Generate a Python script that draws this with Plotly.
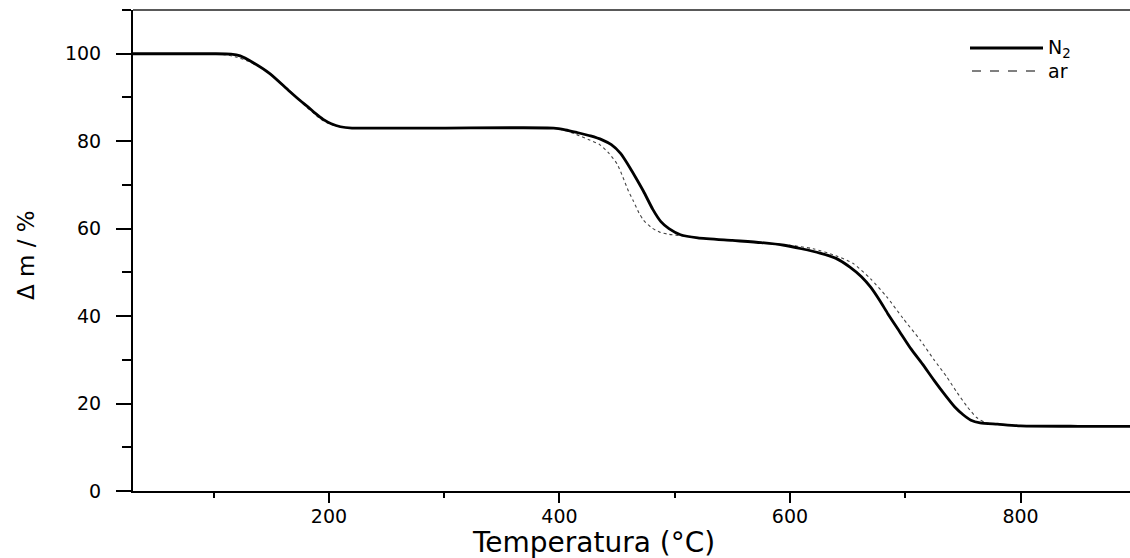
import plotly.graph_objects as go

# ---- data ----
temp_n2 = [30, 100, 115, 123, 134, 149, 165, 175, 182, 188, 195, 202, 210, 220, 240, 300,
           395, 405, 415, 427, 437, 445, 453, 461, 467, 473, 481, 488, 495, 505, 520,
           550, 575, 595, 610, 626, 640, 652, 662, 670, 678, 685, 695, 705, 715, 725,
           735, 743, 750, 757, 765, 780, 800, 850, 900]
mass_n2 = [100, 100, 99.9, 99.5, 98.0, 95.4, 91.6, 89.3, 87.8, 86.4, 85.0, 84.0, 83.3, 83.0, 83.0, 83.0,
           83.0, 82.6, 82.0, 81.2, 80.3, 79.2, 77.2, 74.0, 71.3, 68.5, 64.4, 61.6, 60.0, 58.6, 57.9,
           57.3, 56.8, 56.2, 55.4, 54.4, 53.2, 51.2, 49.0, 46.6, 43.5, 40.5, 36.5, 32.5, 29.0, 25.3,
           21.8, 19.2, 17.5, 16.2, 15.6, 15.3, 14.9, 14.8, 14.8]

temp_ar = [30, 100, 110, 120, 130, 140, 150, 165, 178, 186, 193, 200, 210, 220, 300,
           395, 405, 415, 425, 435, 443, 450, 455, 460, 464, 469, 473, 480, 487, 495,
           505, 520, 550, 575, 600, 620, 640, 655, 670, 684, 698, 713, 725, 736, 745,
           754, 762, 770, 785, 800, 850, 900]
mass_ar = [100, 100, 99.8, 99.2, 98.3, 97.0, 95.2, 91.8, 88.4, 86.6, 85.0, 84.0, 83.3, 83.0, 83.0,
           83.0, 82.4, 81.5, 80.4, 79.2, 77.2, 74.8, 71.8, 68.5, 66.4, 63.6, 61.9, 60.2, 59.2, 58.7,
           58.4, 57.9, 57.3, 56.8, 56.2, 55.4, 53.8, 52.0, 48.5, 44.4, 39.5, 34.5, 30.0, 26.1, 22.5,
           19.2, 16.8, 15.6, 15.2, 14.9, 14.8, 14.8]

series_names = ["N<sub>2</sub>", "ar"]
x_title = "Temperatura (°C)"
y_title = "Δ m / %"

FONT = "DejaVu Sans"
W, H = 1130, 558
ML, MR, MT, MB = 133, 0, 10, 67
PW, PH = W - ML - MR, H - MT - MB


def px_x(px):
    return (px - ML) / PW


def px_y(py):
    return (H - MB - py) / PH


fig = go.Figure()
fig.add_trace(go.Scatter(x=temp_ar, y=mass_ar, mode="lines", name="ar",
                         line=dict(color="#444444", width=1.1, dash="dot", shape="spline", smoothing=0.6),
                         showlegend=False))
fig.add_trace(go.Scatter(x=temp_n2, y=mass_n2, mode="lines", name="N2",
                         line=dict(color="black", width=2.8, shape="spline", smoothing=0.6),
                         showlegend=False))

axis_common = dict(showgrid=False, zeroline=False, showline=True, linecolor="black", linewidth=2,
                   ticks="outside", tickcolor="black", tickwidth=2,
                   tickfont=dict(family=FONT, size=19, color="black"))

fig.update_xaxes(range=[30, 895], tick0=0, dtick=200, ticklen=10, ticklabelstandoff=-3,
                 minor=dict(dtick=100, tick0=0, ticks="outside", ticklen=5, tickwidth=2, tickcolor="black"),
                 **axis_common)
fig.update_yaxes(range=[0, 110], tick0=0, dtick=20, ticklen=15, ticklabelstandoff=11,
                 minor=dict(dtick=10, tick0=0, ticks="outside", ticklen=9, tickwidth=2, tickcolor="black"),
                 **axis_common)

shapes = [
    # top frame line
    dict(type="line", xref="paper", yref="paper", x0=0, x1=1, y0=1, y1=1,
         line=dict(color="#222222", width=1.3)),
    # legend samples
    dict(type="line", xref="paper", yref="paper", x0=px_x(970), x1=px_x(1043),
         y0=px_y(48), y1=px_y(48), line=dict(color="black", width=3)),
    dict(type="line", xref="paper", yref="paper", x0=px_x(972), x1=px_x(1038),
         y0=px_y(71), y1=px_y(71), line=dict(color="black", width=1, dash="dash")),
]

annotations = [
    dict(text=series_names[0], xref="paper", yref="paper", x=px_x(1046), y=px_y(48),
         xanchor="left", yanchor="middle", showarrow=False,
         font=dict(family=FONT, size=19, color="black")),
    dict(text=series_names[1], xref="paper", yref="paper", x=px_x(1046), y=px_y(71),
         xanchor="left", yanchor="middle", showarrow=False,
         font=dict(family=FONT, size=19, color="black")),
    dict(text=x_title, xref="paper", yref="paper", x=px_x(593), y=px_y(542),
         xanchor="center", yanchor="middle", showarrow=False,
         font=dict(family=FONT, size=28, color="black")),
    dict(text=y_title, xref="paper", yref="paper", x=px_x(26), y=px_y(255),
         xanchor="center", yanchor="middle", showarrow=False, textangle=-90,
         font=dict(family=FONT, size=23, color="black")),
]

fig.update_layout(width=W, height=H, margin=dict(l=ML, r=MR, t=MT, b=MB),
                  plot_bgcolor="white", paper_bgcolor="white",
                  shapes=shapes, annotations=annotations, showlegend=False)

fig.write_html("out.html", config={"displayModeBar": False},
               post_script="document.body.style.margin='0';document.body.style.padding='0';"
                           "document.body.style.overflow='hidden';")
